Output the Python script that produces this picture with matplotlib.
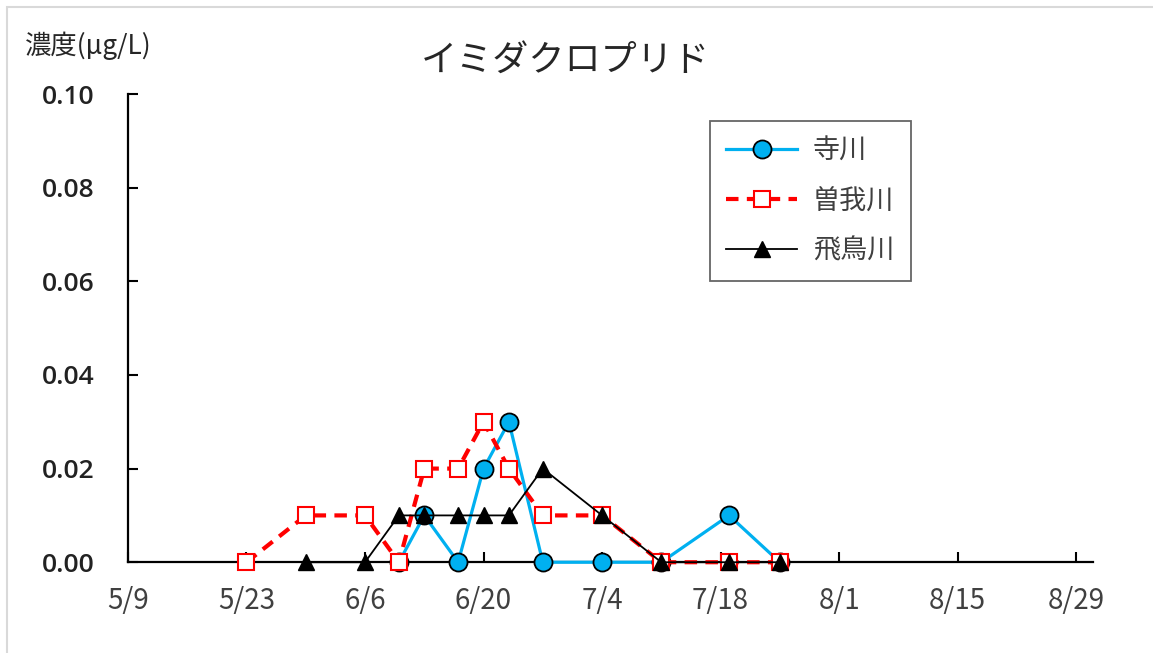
import datetime as dt

import matplotlib
matplotlib.use("Agg")
import matplotlib.pyplot as plt
import matplotlib.dates as mdates
from matplotlib.patches import Rectangle

plt.rcParams['font.family'] = ['Noto Sans CJK JP', 'DejaVu Sans']

YEAR = 2020


def d(m, day):
    return dt.date(YEAR, m, day)


# 寺川
tera_dates = [d(6, 10), d(6, 13), d(6, 17), d(6, 20), d(6, 23), d(6, 27),
              d(7, 4), d(7, 11), d(7, 19), d(7, 25)]
tera_vals = [0.0, 0.01, 0.0, 0.02, 0.03, 0.0, 0.0, 0.0, 0.01, 0.0]

# 曽我川
soga_dates = [d(5, 23), d(5, 30), d(6, 6), d(6, 10), d(6, 13), d(6, 17), d(6, 20),
              d(6, 23), d(6, 27), d(7, 4), d(7, 11), d(7, 19), d(7, 25)]
soga_vals = [0.0, 0.01, 0.01, 0.0, 0.02, 0.02, 0.03, 0.02, 0.01, 0.01, 0.0, 0.0, 0.0]

# 飛鳥川
asuka_dates = [d(5, 30), d(6, 6), d(6, 10), d(6, 13), d(6, 17), d(6, 20),
               d(6, 23), d(6, 27), d(7, 4), d(7, 11), d(7, 19), d(7, 25)]
asuka_vals = [0.0, 0.0, 0.01, 0.01, 0.01, 0.01, 0.01, 0.02, 0.01, 0.0, 0.0, 0.0]

x_ticks = [d(5, 9) + dt.timedelta(days=14 * i) for i in range(9)]
y_ticks = [0.0, 0.02, 0.04, 0.06, 0.08, 0.10]

fig = plt.figure(figsize=(11.53, 6.53), dpi=100)
ax = fig.add_axes([0.111, 0.139, 0.837, 0.717])

# outer chart frame
fig.patches.append(Rectangle((7 / 1153, -0.05), 1.1, 1 - 7 / 653 + 0.05,
                             transform=fig.transFigure, fill=False,
                             edgecolor='#d9d9d9', linewidth=1.5))

ax.plot(tera_dates, tera_vals, color='#00b0f0', lw=2.3, marker='o', ms=13,
        mfc='#00b0f0', mec='black', mew=1.3, label='寺川', zorder=3, clip_on=False)
ax.plot(soga_dates, soga_vals, color='#ff0000', lw=3, dashes=(3, 2), marker='s',
        ms=11, mfc='white', mec='#ff0000', mew=1.5, label='曽我川', zorder=4,
        clip_on=False)
ax.plot(asuka_dates, asuka_vals, color='black', lw=1.3, marker='^', ms=12,
        mfc='black', mec='black', label='飛鳥川', zorder=5, clip_on=False)

ax.set_xlim(d(5, 9), d(5, 9) + dt.timedelta(days=114))
ax.set_ylim(0, 0.10)
ax.set_xticks(x_ticks)
ax.xaxis.set_major_formatter(
    plt.FuncFormatter(lambda v, p: f"{mdates.num2date(v).month}/{mdates.num2date(v).day}"))
ax.set_yticks(y_ticks)
ax.set_yticklabels([f"{v:.2f}" for v in y_ticks])

for s in ['top', 'right']:
    ax.spines[s].set_visible(False)
for s in ['left', 'bottom']:
    ax.spines[s].set_linewidth(1.6)
    ax.spines[s].set_color('black')
ax.spines['bottom'].set_zorder(2)

ax.tick_params(axis='both', direction='in', length=7, width=1.5, color='black')
ax.tick_params(axis='x', labelsize=20, labelcolor='#404040', pad=17)
ax.tick_params(axis='y', labelsize=19, labelcolor='#222222', pad=24)
for lbl in ax.get_yticklabels():
    lbl.set_family(['Open Sans', 'DejaVu Sans'])
    lbl.set_fontweight('semibold')

fig.text(0.49, 0.905, 'イミダクロプリド', ha='center', va='center',
         fontsize=26, color='#262626')
fig.text(0.022, 0.93, '濃度(μg/L)', ha='left', va='center',
         fontsize=19, color='#262626')

leg = ax.legend(loc='upper left', bbox_to_anchor=(0.592, 0.965), fontsize=19.5,
                frameon=True, fancybox=False, edgecolor='#404040',
                handlelength=2.6, labelspacing=0.85, borderpad=0.6,
                handletextpad=0.6, borderaxespad=0.4)
leg.get_frame().set_linewidth(1.3)
for t in leg.get_texts():
    t.set_color('#404040')

fig.savefig('out.png', dpi=100)
